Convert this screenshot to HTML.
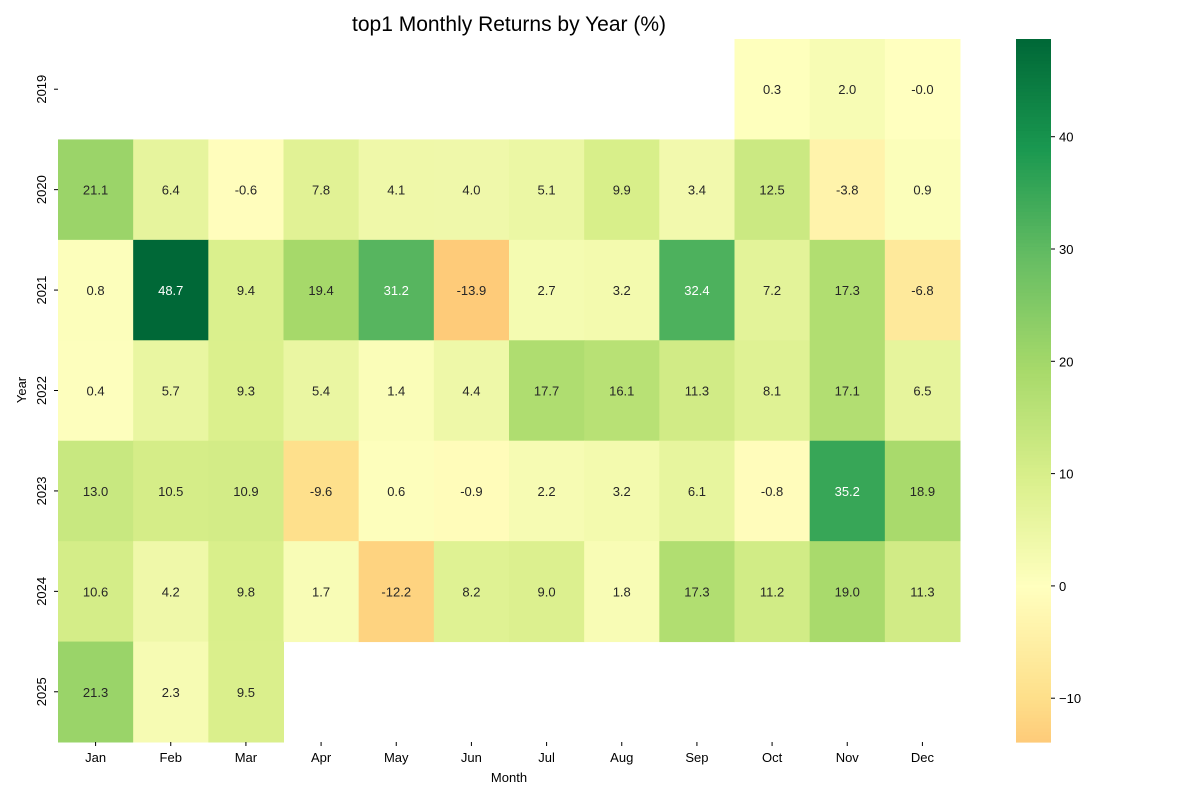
<!DOCTYPE html>
<html><head><meta charset="utf-8"><style>
body{margin:0;background:#fff;font-family:"Liberation Sans","DejaVu Sans",sans-serif}
</style></head><body>
<svg id="chart" width="1200" height="800" xmlns="http://www.w3.org/2000/svg">
<text x="509" y="31" text-anchor="middle" font-size="21" fill="#000">top1 Monthly Returns by Year (%)</text>
<text x="509" y="782" text-anchor="middle" font-size="13">Month</text>
<text transform="translate(26,390) rotate(-90)" text-anchor="middle" font-size="13">Year</text>
<g id="cells"></g><g id="cbar"></g>
</svg>
<script>
const months=["Jan","Feb","Mar","Apr","May","Jun","Jul","Aug","Sep","Oct","Nov","Dec"];
const years=["2019","2020","2021","2022","2023","2024","2025"];
const r2019=[null,null,null,null,null,null,null,null,null,0.3,2.0,-0.02];
const r2020=[21.1,6.4,-0.6,7.8,4.1,4.0,5.1,9.9,3.4,12.5,-3.8,0.9];
const r2021=[0.8,48.7,9.4,19.4,31.2,-13.9,2.7,3.2,32.4,7.2,17.3,-6.8];
const r2022=[0.4,5.7,9.3,5.4,1.4,4.4,17.7,16.1,11.3,8.1,17.1,6.5];
const r2023=[13.0,10.5,10.9,-9.6,0.6,-0.9,2.2,3.2,6.1,-0.8,35.2,18.9];
const r2024=[10.6,4.2,9.8,1.7,-12.2,8.2,9.0,1.8,17.3,11.2,19.0,11.3];
const r2025=[21.3,2.3,9.5,null,null,null,null,null,null,null,null,null];
const cbTicks=[-10,0,10,20,30,40];
const rows=[r2019,r2020,r2021,r2022,r2023,r2024,r2025];
const NS="http://www.w3.org/2000/svg";
const pal=["#a50026","#d73027","#f46d43","#fdae61","#fee08b","#ffffbf","#d9ef8b","#a6d96a","#66bd63","#1a9850","#006837"].map(h=>[1,3,5].map(i=>parseInt(h.substr(i,2),16)));
function cmap(t){t=Math.max(0,Math.min(1,t));const p=t*10,i=Math.min(9,Math.floor(p)),f=p-i;return pal[i].map((c,k)=>c+(pal[i+1][k]-c)*f);}
const all=rows.flat().filter(v=>v!==null);
const vmin=Math.min(...all),vmax=Math.max(...all),R=Math.max(Math.abs(vmin),Math.abs(vmax));
const col=v=>cmap((v+R)/(2*R));
const X0=58,X1=960,Y0=39,Y1=742,cw=(X1-X0)/12,ch=(Y1-Y0)/7;
const cells=document.getElementById('cells');
function mk(tag,at,txt){const e=document.createElementNS(NS,tag);for(const k in at)e.setAttribute(k,at[k]);if(txt!==undefined)e.textContent=txt;return e;}
rows.forEach((row,r)=>row.forEach((v,c)=>{if(v===null)return;const rgb=col(v);
const rc=mk('rect',{x:X0+c*cw,y:Y0+r*ch,width:cw+0.5,height:ch+0.5,fill:`rgb(${rgb.map(Math.round)})`});

cells.appendChild(rc);
const lum=rgb.map(x=>{x/=255;return x<=0.03928?x/12.92:Math.pow((x+0.055)/1.055,2.4)});const L=0.2126*lum[0]+0.7152*lum[1]+0.0722*lum[2];
const t=mk('text',{x:X0+(c+0.5)*cw,y:Y0+(r+0.5)*ch+5,'text-anchor':'middle','font-size':13,fill:L<0.408?'#fff':'#262626'},v.toFixed(1));

cells.appendChild(t);}));
months.forEach((m,c)=>{const x=X0+(c+0.5)*cw;cells.appendChild(mk('line',{x1:x,x2:x,y1:Y1,y2:Y1+4,stroke:'#000'}));
const t=mk('text',{x:x,y:Y1+20,'text-anchor':'middle','font-size':13},m);

cells.appendChild(t);});
years.forEach((yr,r)=>{const y=Y0+(r+0.5)*ch;cells.appendChild(mk('line',{x1:X0-4,x2:X0,y1:y,y2:y,stroke:'#000'}));
const t=mk('text',{transform:`translate(${X0-12},${y}) rotate(-90)`,'text-anchor':'middle','font-size':13},yr);

cells.appendChild(t);});
const cb=document.getElementById('cbar');const CX=1016,CW=35;
const yv=v=>Y1-(v-vmin)/(vmax-vmin)*(Y1-Y0);
for(let i=0;i<200;i++){const v0=vmin+(vmax-vmin)*i/200,v1=vmin+(vmax-vmin)*(i+1)/200;
const rgb=col((v0+v1)/2);cb.appendChild(mk('rect',{x:CX,y:yv(v1),width:CW,height:yv(v0)-yv(v1)+0.6,fill:`rgb(${rgb.map(Math.round)})`}));}
cbTicks.forEach(v=>{const y=yv(v);cb.appendChild(mk('line',{x1:CX+CW,x2:CX+CW+4,y1:y,y2:y,stroke:'#000'}));
const t=mk('text',{x:CX+CW+8,y:y+5,'font-size':13},v<0?'\u2212'+(-v):v);

cb.appendChild(t);});


</script>
</body></html>
